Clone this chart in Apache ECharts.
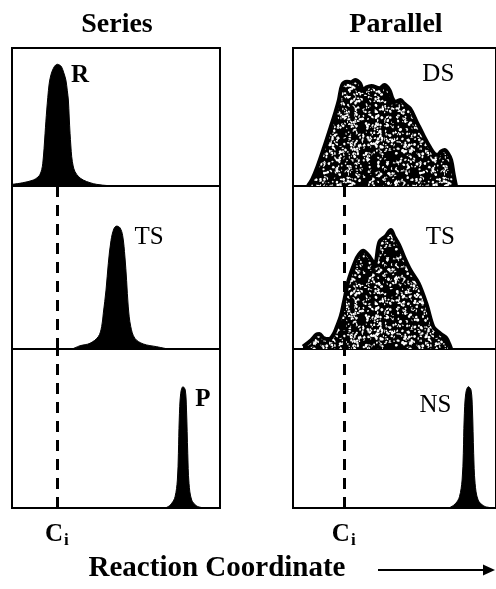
<!DOCTYPE html>
<html>
<head>
<meta charset="utf-8">
<script src="https://cdn.jsdelivr.net/npm/echarts@6/dist/echarts.min.js"></script>
<style>
  html, body { margin: 0; padding: 0; background: #fff; }
  #chart { width: 496px; height: 589px; }
</style>
</head>
<body>
<div id="chart"></div>
<script>
// Population profiles along the reaction coordinate (x: 0–100, population: 0–100)

// Series mechanism: reactant, transition state, product
const seriesR = [
  [0, 1.2], [5, 2.3], [10.2, 4.3], [12.5, 6.5], [13.5, 8.5], [14.3, 12], [14.8, 16.5],
  [15.4, 27], [15.9, 38.2], [16.3, 47], [16.7, 55.1], [17.2, 64], [17.9, 74.4], [18.8, 81],
  [19.9, 85.3], [21.0, 87.7], [21.9, 88.2], [22.9, 87.6], [23.8, 86.4], [24.9, 82],
  [25.9, 76.8], [26.6, 69], [27.1, 62.3], [27.5, 50], [27.9, 38.2], [28.3, 29], [28.7, 21.3],
  [29.4, 14.5], [30.3, 10.4], [32, 6.8], [34.3, 4.3], [37.5, 2.4], [40.7, 1.2], [46, 0.3], [52, 0]
];
const seriesTS = [
  [29, 0], [32.7, 2.0], [37.5, 3.5], [41.5, 7.6], [43.1, 13.7], [43.9, 21.9], [45.2, 36.2],
  [46.3, 52.4], [47.6, 66.6], [49.0, 73.8], [50.3, 75.4], [51.9, 74.4], [53.2, 69.6],
  [54.3, 56.4], [55.1, 42.1], [55.9, 25.8], [57.1, 13.7], [59.1, 6.5], [63.1, 3.1],
  [69.6, 1.4], [75, 0]
];
const seriesP = [
  [72, 0], [74.4, 0.4], [76.8, 3.0], [78.4, 7.1], [79.5, 17.6], [80.0, 34.4], [80.4, 55.3],
  [81.1, 72.1], [82.2, 76.3], [83.3, 74.2], [83.9, 61.6], [84.5, 34.4], [85.1, 15.5],
  [86.4, 5.0], [88.8, 1.3], [91.2, 0.3], [94, 0]
];

// Parallel mechanism: denatured state, transition state, native state
const parallelDS = [
  [7.4, 0], [9.5, 5], [12.0, 13.8], [15.4, 28.3], [18.6, 42.8], [21.0, 54], [22.6, 62.3],
  [24.2, 73.2], [26.6, 75.6], [28.6, 75.2], [30.6, 76.8], [33.0, 74.4], [34.6, 69.6],
  [36.2, 71.5], [38.6, 72.5], [42.6, 70.8], [45.0, 73.2], [47.5, 69.6], [49.0, 63.5],
  [50.6, 61.1], [53.0, 62.3], [54.6, 59.9], [57.7, 56], [61.1, 46], [64.5, 36], [67.5, 28],
  [69.6, 23.5], [71.2, 22.5], [73.0, 25.0], [74.7, 26.1], [76.4, 23.5], [77.9, 18.8],
  [79.2, 8], [80.3, 0]
];
const parallelTS = [
  [4.95, 1.4], [9.1, 5.5], [11.5, 8.8], [13.0, 9.2], [15, 6.8], [17.8, 6.1], [20, 9],
  [21.6, 13.7], [23.5, 20], [25.0, 28.2], [27.4, 42.3], [30.6, 53.6], [32.5, 58],
  [34.6, 60.3], [37.0, 57.7], [40.2, 52.6], [42.6, 65.8], [45.7, 69.3], [48.2, 73],
  [50.0, 68.7], [52.3, 63.8], [54.7, 56.6], [57.8, 48.5], [61.9, 40.3], [65.9, 27],
  [69.1, 13.7], [71.5, 10.6], [73.6, 8.6], [75.5, 6.7], [77.0, 3], [77.9, 0]
];
const parallelNS = [
  [75, 0], [77.4, 0.4], [80.2, 3.0], [82.0, 7.1], [83.3, 17.6], [83.9, 34.4], [84.3, 55.3],
  [85.1, 72.1], [86.4, 76.3], [87.7, 74.2], [88.4, 61.6], [89.0, 34.4], [89.7, 15.5],
  [91.2, 5.0], [94.0, 1.3], [96.8, 0.3], [99, 0]
];

// Position of the intermediate coordinate C_i in each column
const ciSeries = 21.6;
const ciParallel = 25.0;

const columnTitles = ['Series', 'Parallel'];
const stateNames = [['R', 'TS', 'P'], ['DS', 'TS', 'NS']];
const axisTitle = 'Reaction Coordinate';

// Speckled black/white fill for the heterogeneous ensembles
function speckleCanvas() {
  const size = 96;
  const c = document.createElement('canvas');
  c.width = size; c.height = size;
  const ctx = c.getContext('2d');
  ctx.fillStyle = '#000';
  ctx.fillRect(0, 0, size, size);
  let seed = 20240611;
  const next = () => { seed = (seed * 1103515245 + 12345) & 0x7fffffff; return seed / 0x7fffffff; };
  ctx.fillStyle = '#fff';
  for (let k = 0; k < 900; k++) {
    const x = next() * size, y = next() * size;
    const rx = 0.4 + next() * 1.3, ry = 0.4 + next() * 1.1;
    ctx.beginPath();
    ctx.ellipse(x, y, rx, ry, next() * Math.PI, 0, Math.PI * 2);
    ctx.fill();
  }
  return c;
}
const speckle = { image: speckleCanvas(), repeat: 'repeat' };

const rows = [
  { top: 48, height: 138 },
  { top: 186, height: 163 },
  { top: 349, height: 159 }
];
const cols = [{ left: 12, width: 208 }, { left: 293, width: 208 }];

const grids = [], xAxes = [], yAxes = [], series = [];
const profiles = [[seriesR, seriesTS, seriesP], [parallelDS, parallelTS, parallelNS]];
const ciValues = [ciSeries, ciParallel];
// Which profiles are broad, heterogeneous ensembles (speckled fill)
const ensemble = [[false, false, false], [true, true, false]];
// Label anchors (data coordinates) beside each profile
const labelAnchors = [
  [[32.7, 80.4], [65.9, 68.7], [91.8, 67.9]],
  [[71.6, 81.2], [72.6, 68.7], [70.2, 64.8]]
];
const labelWeights = [['bold', 'normal', 'bold'], ['normal', 'normal', 'normal']];

cols.forEach((col, ci) => {
  rows.forEach((row, ri) => {
    const idx = grids.length;
    grids.push({
      left: col.left, width: col.width, top: row.top, height: row.height,
      show: true, borderColor: '#000', borderWidth: 2, backgroundColor: 'transparent'
    });
    const isBottom = ri === rows.length - 1;
    xAxes.push({
      type: 'value', gridIndex: idx, min: 0, max: 100,
      show: isBottom,
      axisLine: { show: false }, axisTick: { show: false }, splitLine: { show: false },
      axisLabel: {
        show: isBottom,
        customValues: [ciValues[ci]],
        margin: 12,
        formatter: () => '{c|C}{i|i}',
        rich: {
          c: { fontFamily: 'Liberation Serif', fontWeight: 'bold', fontSize: 25, color: '#000', lineHeight: 26 },
          i: { fontFamily: 'Liberation Serif', fontWeight: 'bold', fontSize: 17, color: '#000', padding: [12, 0, 0, 1] }
        }
      }
    });
    yAxes.push({ type: 'value', gridIndex: idx, min: 0, max: 100, show: false });

    const broad = ensemble[ci][ri];
    const s = {
      type: 'line', xAxisIndex: idx, yAxisIndex: idx,
      data: profiles[ci][ri],
      smooth: 0.35, symbol: 'none', silent: true,
      lineStyle: { color: '#000', width: broad ? 4 : 1 },
      areaStyle: { color: broad ? speckle : '#000', opacity: 1 },
      markPoint: {
        symbol: 'circle', symbolSize: 0, silent: true,
        label: {
          show: true, position: 'inside', formatter: stateNames[ci][ri],
          fontFamily: 'Liberation Serif', fontWeight: labelWeights[ci][ri], fontSize: 25, color: '#000'
        },
        data: [{ coord: labelAnchors[ci][ri] }]
      }
    };
    if (ri > 0) {
      s.markLine = {
        symbol: ['none', 'none'], silent: true,
        label: { show: false },
        lineStyle: { color: '#000', width: 3, type: [11, 8] },
        data: [{ xAxis: ciValues[ci] }]
      };
    }
    series.push(s);
  });
});

const chart = echarts.init(document.getElementById('chart'), null, { renderer: 'canvas' });
chart.setOption({
  animation: false,
  backgroundColor: '#fff',
  grid: grids,
  xAxis: xAxes,
  yAxis: yAxes,
  series: series,
  graphic: [
    { type: 'text', x: 117, y: 25, style: { text: columnTitles[0], fontSize: 28, fontFamily: 'Liberation Serif', fontWeight: 'bold', textAlign: 'center', textVerticalAlign: 'middle', fill: '#000' } },
    { type: 'text', x: 396, y: 25, style: { text: columnTitles[1], fontSize: 28, fontFamily: 'Liberation Serif', fontWeight: 'bold', textAlign: 'center', textVerticalAlign: 'middle', fill: '#000' } },
    { type: 'text', x: 217, y: 569, style: { text: axisTitle, fontSize: 29, fontFamily: 'Liberation Serif', fontWeight: 'bold', textAlign: 'center', textVerticalAlign: 'middle', fill: '#000' } },
    { type: 'line', shape: { x1: 378, y1: 570, x2: 486, y2: 570 }, style: { stroke: '#000', lineWidth: 2 } },
    { type: 'polygon', shape: { points: [[495, 570], [483, 564.5], [483, 575.5]] }, style: { fill: '#000' } }
  ]
});
</script>
</body>
</html>
